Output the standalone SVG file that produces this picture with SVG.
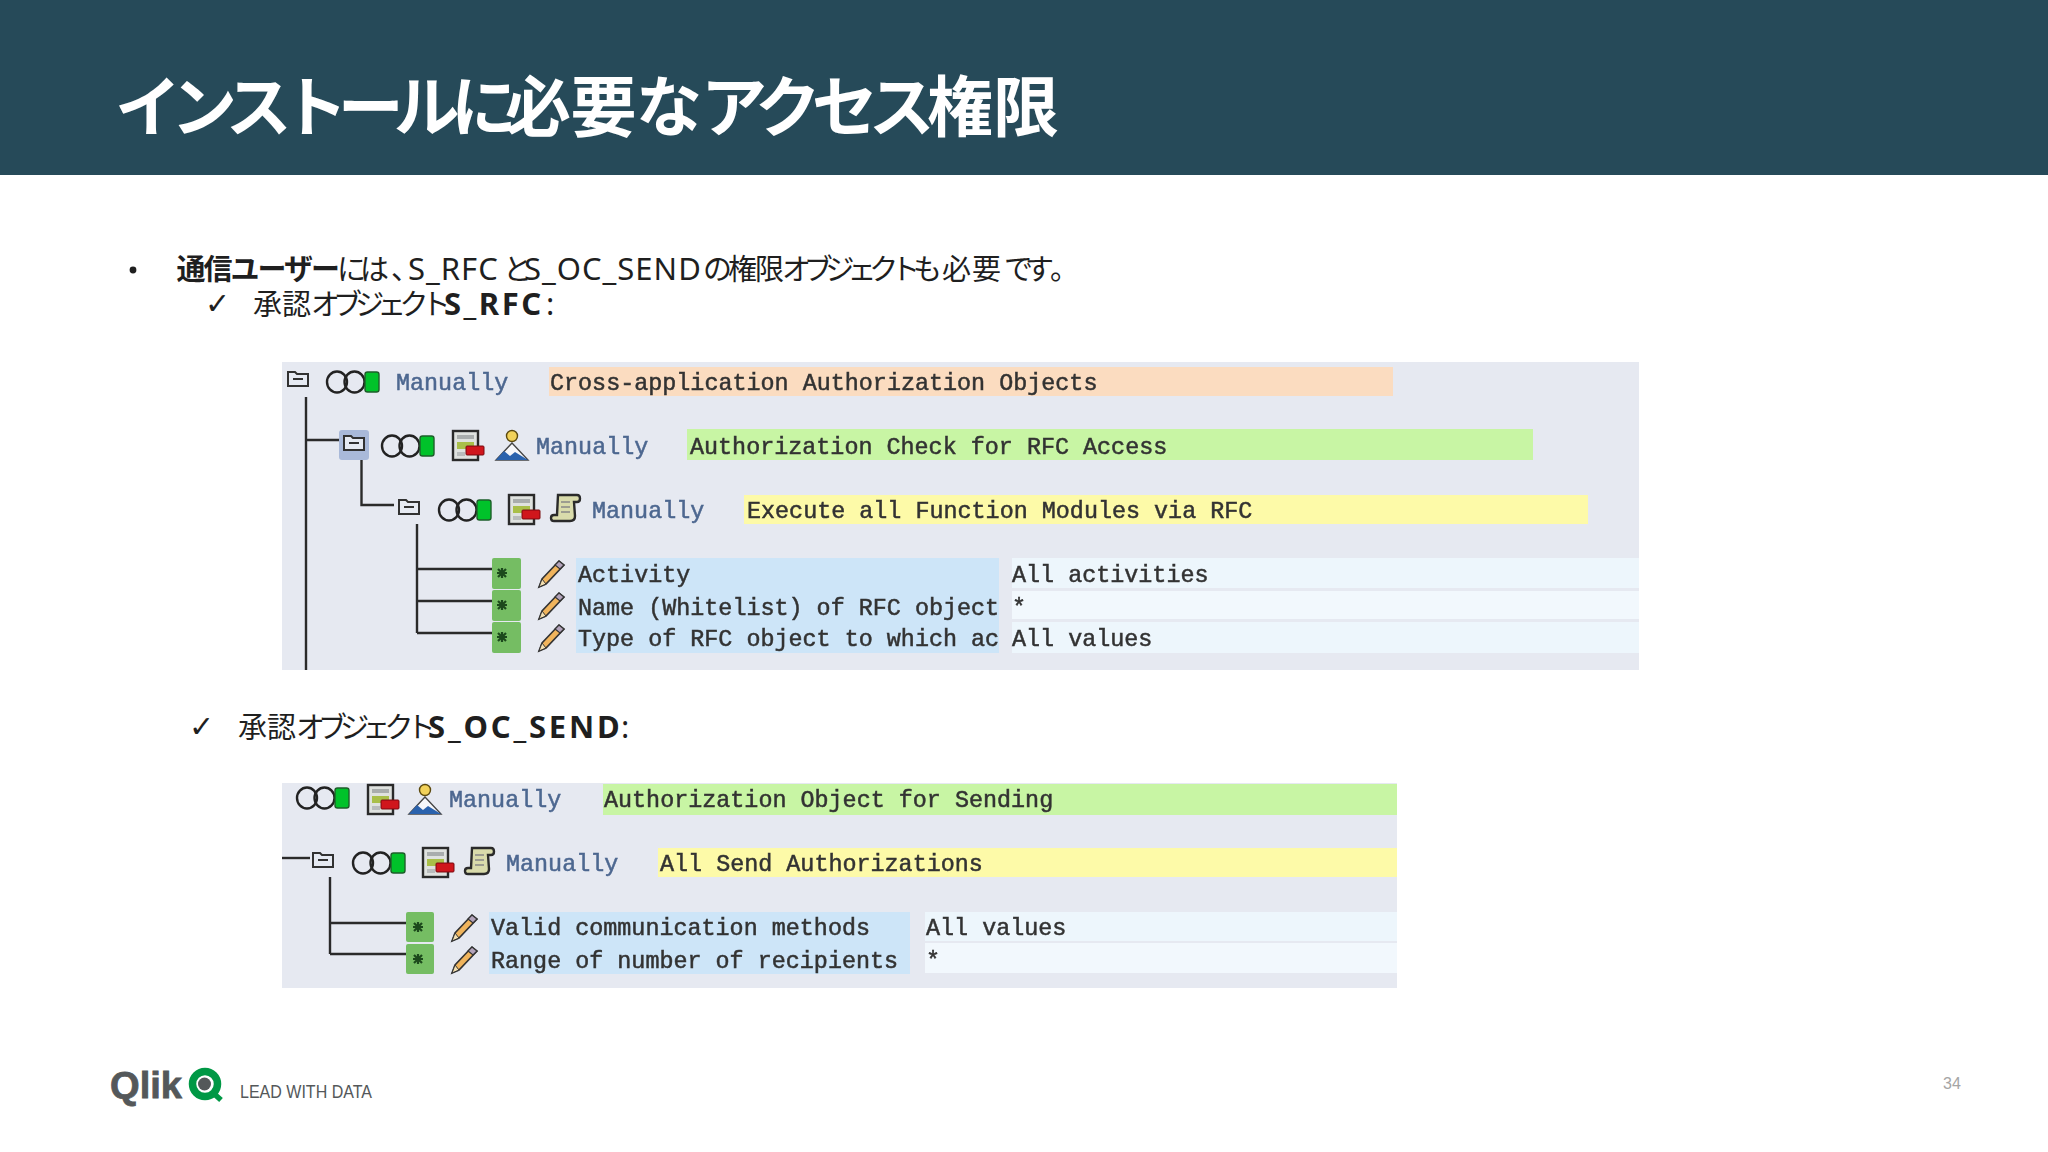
<svg xmlns="http://www.w3.org/2000/svg" xmlns:xlink="http://www.w3.org/1999/xlink" width="2048" height="1152" viewBox="0 0 2048 1152">
<style>
.jp{font-family:"Noto Sans CJK JP","Noto Sans",sans-serif;fill:#1f1f1f;font-size:29px}
.la{font-family:"Noto Sans",sans-serif;font-size:31px}
.b{font-weight:700}
.m{font-family:"Liberation Mono",monospace;font-size:23.4px;fill:#333;stroke:#333;stroke-width:.5px;white-space:pre}
.man{fill:#4d6790;stroke:#4d6790}
.tree{fill:none;stroke:#2b2b2b;stroke-width:2.4}
.chk{font-family:"DejaVu Sans",sans-serif;font-size:30px;fill:#1f1f1f}
</style>
<defs>
<filter id="soft" x="-2%" y="-2%" width="104%" height="104%"><feGaussianBlur stdDeviation="0.7"/></filter>
<g id="folder"><path d="M1 4h7l2 2h11v12H1z" fill="#e6eaf2" stroke="#333" stroke-width="2"/><path d="M6 11h10" stroke="#333" stroke-width="2"/></g>
<g id="lights"><ellipse cx="11" cy="12" rx="10" ry="10.500" fill="none" stroke="#222" stroke-width="2.4"/><ellipse cx="28.500" cy="12" rx="10" ry="10.500" fill="none" stroke="#222" stroke-width="2.4"/><rect x="39" y="2" width="14" height="20" rx="2.500" fill="#06c22a" stroke="#1d5f2a" stroke-width="1.400"/></g>
<g id="doc"><rect x="1" y="1" width="25" height="29" fill="#dfe2df" stroke="#2b2b2b" stroke-width="2.400"/><rect x="5" y="5" width="17" height="4" fill="#a9adad"/><rect x="5" y="12" width="17" height="7" fill="#a9bf4a"/><rect x="5" y="22" width="8" height="4" fill="#b9bcbc"/><rect x="14" y="16" width="18" height="9" rx="1" fill="#d0121f" stroke="#7a1010"/></g>
<g id="person"><circle cx="17" cy="7" r="5.500" fill="#f2d25a" stroke="#5c4a10" stroke-width="1.400"/><path d="M17 14L1 31h32z" fill="#f6f7fa" stroke="#444" stroke-width="1.400"/><path d="M1 31l8-9 6 5 5-4 13 8z" fill="#2c62ad"/></g>
<g id="scroll"><path d="M8 2h19c4 0 4 7 0 7h-3l1 14c0 3-2 5-5 5H4c-4 0-4-6 0-6h3z" fill="#d9dbab" stroke="#2b2b2b" stroke-width="2.400"/><path d="M11 9h9M11 14h9M11 19h9" stroke="#888" stroke-width="1.500"/></g>
<g id="pencil"><path d="M21 2l5 4L8 25 1 28l3-8z" fill="#f0b45c" stroke="#333" stroke-width="1.600"/><path d="M21 2l5 4-4 4-5-4z" fill="#b3a3bb" stroke="#333" stroke-width="1.200"/><path d="M4 20l4 5-7 3z" fill="#f3dfb0" stroke="#333" stroke-width="1"/></g>
<g id="star"><path d="M-4-4L4 4M-4 4L4-4M-5 0H5M0-5V5" stroke="#1c4a1c" stroke-width="2.200"/></g>
</defs>

<g id="header">
<rect width="2048" height="175" fill="#264a59"/>
<text x="115" y="131" font-family="'Noto Sans CJK JP',sans-serif" font-weight="700" font-size="66" fill="#fff"><tspan letter-spacing="-10">インストール</tspan><tspan x="451">に</tspan><tspan x="505" letter-spacing="-0.500">必要</tspan><tspan x="636">な</tspan><tspan x="701" letter-spacing="-9">アクセス</tspan><tspan x="927">権限</tspan></text>
</g>

<g id="body-text">
<circle cx="133" cy="270" r="3.400" fill="#1f1f1f"/>
<text class="jp" x="176.500" y="280"><tspan class="b" letter-spacing="-2">通信ユーザー</tspan><tspan x="337" letter-spacing="-6">には</tspan><tspan x="391">、</tspan><tspan x="408" class="la" letter-spacing="1">S_RFC</tspan><tspan x="503">と</tspan><tspan x="524" class="la" letter-spacing="1">S_OC_SEND</tspan><tspan x="703">の</tspan><tspan x="728" letter-spacing="-2">権限</tspan><tspan x="782" letter-spacing="-7.200">オブジェクト</tspan><tspan x="913">も</tspan><tspan x="942" letter-spacing="1">必要</tspan><tspan x="1004" letter-spacing="-8">です</tspan><tspan x="1050">。</tspan></text>
<text class="chk" x="205" y="314">✓</text>
<text class="jp" x="253" y="315">承認<tspan x="311" letter-spacing="-6.900">オブジェクト</tspan><tspan x="444" class="la b" letter-spacing="2.500">S_RFC</tspan><tspan x="546" class="la">:</tspan></text>
<text class="chk" x="189" y="737">✓</text>
<text class="jp" x="238" y="738">承認<tspan x="296" letter-spacing="-6.900">オブジェクト</tspan><tspan x="428" class="la b" letter-spacing="2.800">S_OC_SEND</tspan><tspan x="621" class="la">:</tspan></text>
</g>

<g filter="url(#soft)">
<rect id="panel-1" x="282" y="362" width="1357" height="308" fill="#e6e9f1"/>
<rect id="panel-2" x="282" y="783" width="1115" height="205" fill="#e6e9f1"/>

<g id="connectors">
<path class="tree" d="M306 397V670M306 440H339"/>
<path class="tree" d="M361.500 460V505H394"/>
<path class="tree" d="M417 524V633M417 569H492M417 601H492M417 633H492"/>
<path class="tree" d="M282 858H310"/>
<path class="tree" d="M330 877V954M330 923H406M330 954H406"/>
</g>

<g id="node-cross-app">
<use xlink:href="#folder" href="#folder" x="287" y="368"/>
<use xlink:href="#lights" href="#lights" x="326" y="370"/>
<text class="m man" x="396" y="390">Manually</text>
<rect x="549" y="367" width="844" height="29" fill="#fbdcc0"/>
<text class="m" x="550" y="390">Cross-application Authorization Objects</text>
</g>

<g id="node-auth-check">
<rect x="339" y="430" width="30" height="30" rx="3" fill="#a9b9d9"/>
<use xlink:href="#folder" href="#folder" x="343" y="432"/>
<use xlink:href="#lights" href="#lights" x="381" y="434"/>
<use xlink:href="#doc" href="#doc" x="452" y="430"/>
<use xlink:href="#person" href="#person" x="495" y="429"/>
<text class="m man" x="536" y="454">Manually</text>
<rect x="687" y="429" width="846" height="31" fill="#c8f5a4"/>
<text class="m" x="690" y="454">Authorization Check for RFC Access</text>
</g>

<g id="node-execute">
<use xlink:href="#folder" href="#folder" x="398" y="496"/>
<use xlink:href="#lights" href="#lights" x="438" y="498"/>
<use xlink:href="#doc" href="#doc" x="508" y="494"/>
<use xlink:href="#scroll" href="#scroll" x="550" y="493"/>
<text class="m man" x="592" y="518">Manually</text>
<rect x="744" y="495" width="844" height="29" fill="#fdfaa8"/>
<text class="m" x="747" y="518">Execute all Function Modules via RFC</text>
</g>

<g id="node-activity">
<rect x="492" y="558" width="29" height="31" rx="2" fill="#74bd64"/>
<use xlink:href="#star" href="#star" x="502" y="573"/>
<use xlink:href="#pencil" href="#pencil" x="538" y="559"/>
<rect x="576" y="558" width="423" height="32" fill="#cde5f8"/>
<text class="m" x="578" y="582">Activity</text>
<rect x="1012" y="558" width="627" height="30" fill="#edf6fc"/>
<text class="m" x="1012" y="582">All activities</text>
</g>

<g id="node-name">
<rect x="492" y="590" width="29" height="31" rx="2" fill="#74bd64"/>
<use xlink:href="#star" href="#star" x="502" y="605"/>
<use xlink:href="#pencil" href="#pencil" x="538" y="591"/>
<rect x="576" y="590" width="423" height="31" fill="#cde5f8"/>
<text class="m" x="578" y="615">Name (Whitelist) of RFC object</text>
<rect x="1012" y="591" width="627" height="28" fill="#f2f8fd"/>
<text class="m" x="1012" y="615">*</text>
</g>

<g id="node-type">
<rect x="492" y="622" width="29" height="31" rx="2" fill="#74bd64"/>
<use xlink:href="#star" href="#star" x="502" y="637"/>
<use xlink:href="#pencil" href="#pencil" x="538" y="623"/>
<rect x="576" y="621" width="423" height="32" fill="#cde5f8"/>
<text class="m" x="578" y="646">Type of RFC object to which ac</text>
<rect x="1012" y="622" width="627" height="31" fill="#edf6fc"/>
<text class="m" x="1012" y="646">All values</text>
</g>

<g id="node-auth-object">
<use xlink:href="#lights" href="#lights" x="296" y="786"/>
<use xlink:href="#doc" href="#doc" x="367" y="784"/>
<use xlink:href="#person" href="#person" x="408" y="783"/>
<text class="m man" x="449" y="807">Manually</text>
<rect x="603" y="784" width="794" height="31" fill="#c8f5a4"/>
<text class="m" x="604" y="807">Authorization Object for Sending</text>
</g>

<g id="node-all-send">
<use xlink:href="#folder" href="#folder" x="312" y="849"/>
<use xlink:href="#lights" href="#lights" x="352" y="851"/>
<use xlink:href="#doc" href="#doc" x="422" y="847"/>
<use xlink:href="#scroll" href="#scroll" x="464" y="846"/>
<text class="m man" x="506" y="871">Manually</text>
<rect x="658" y="848" width="739" height="29" fill="#fdfaa8"/>
<text class="m" x="660" y="871">All Send Authorizations</text>
</g>

<g id="node-valid">
<rect x="406" y="912" width="28" height="30" rx="2" fill="#74bd64"/>
<use xlink:href="#star" href="#star" x="418" y="927"/>
<use xlink:href="#pencil" href="#pencil" x="451" y="913"/>
<rect x="489" y="912" width="421" height="31" fill="#cde5f8"/>
<text class="m" x="491" y="935">Valid communication methods</text>
<rect x="925" y="912" width="472" height="29" fill="#edf6fc"/>
<text class="m" x="926" y="935">All values</text>
</g>

<g id="node-range">
<rect x="406" y="944" width="28" height="30" rx="2" fill="#74bd64"/>
<use xlink:href="#star" href="#star" x="418" y="959"/>
<use xlink:href="#pencil" href="#pencil" x="451" y="945"/>
<rect x="489" y="943" width="421" height="31" fill="#cde5f8"/>
<text class="m" x="491" y="968">Range of number of recipients</text>
<rect x="925" y="943" width="472" height="30" fill="#f2f8fd"/>
<text class="m" x="926" y="968">*</text>
</g>
</g>

<g id="footer">
<text x="110" y="1098" font-family="'Liberation Sans',sans-serif" font-weight="700" font-size="37" fill="#54585a" stroke="#54585a" stroke-width="0.800" textLength="72" lengthAdjust="spacingAndGlyphs">Qlik</text>
<circle cx="205" cy="1084" r="12.500" fill="none" stroke="#009845" stroke-width="7.500"/>
<circle cx="204.500" cy="1084" r="6.500" fill="#54585a"/>
<path d="M212 1092l9 8" stroke="#009845" stroke-width="5.500"/>
<text x="240" y="1098" font-family="'Liberation Sans',sans-serif" font-size="17.500" fill="#54585a" textLength="132" lengthAdjust="spacingAndGlyphs">LEAD WITH DATA</text>
<text x="1943" y="1089" font-family="'Liberation Sans',sans-serif" font-size="16" fill="#a5a5a5">34</text>
</g>
</svg>
